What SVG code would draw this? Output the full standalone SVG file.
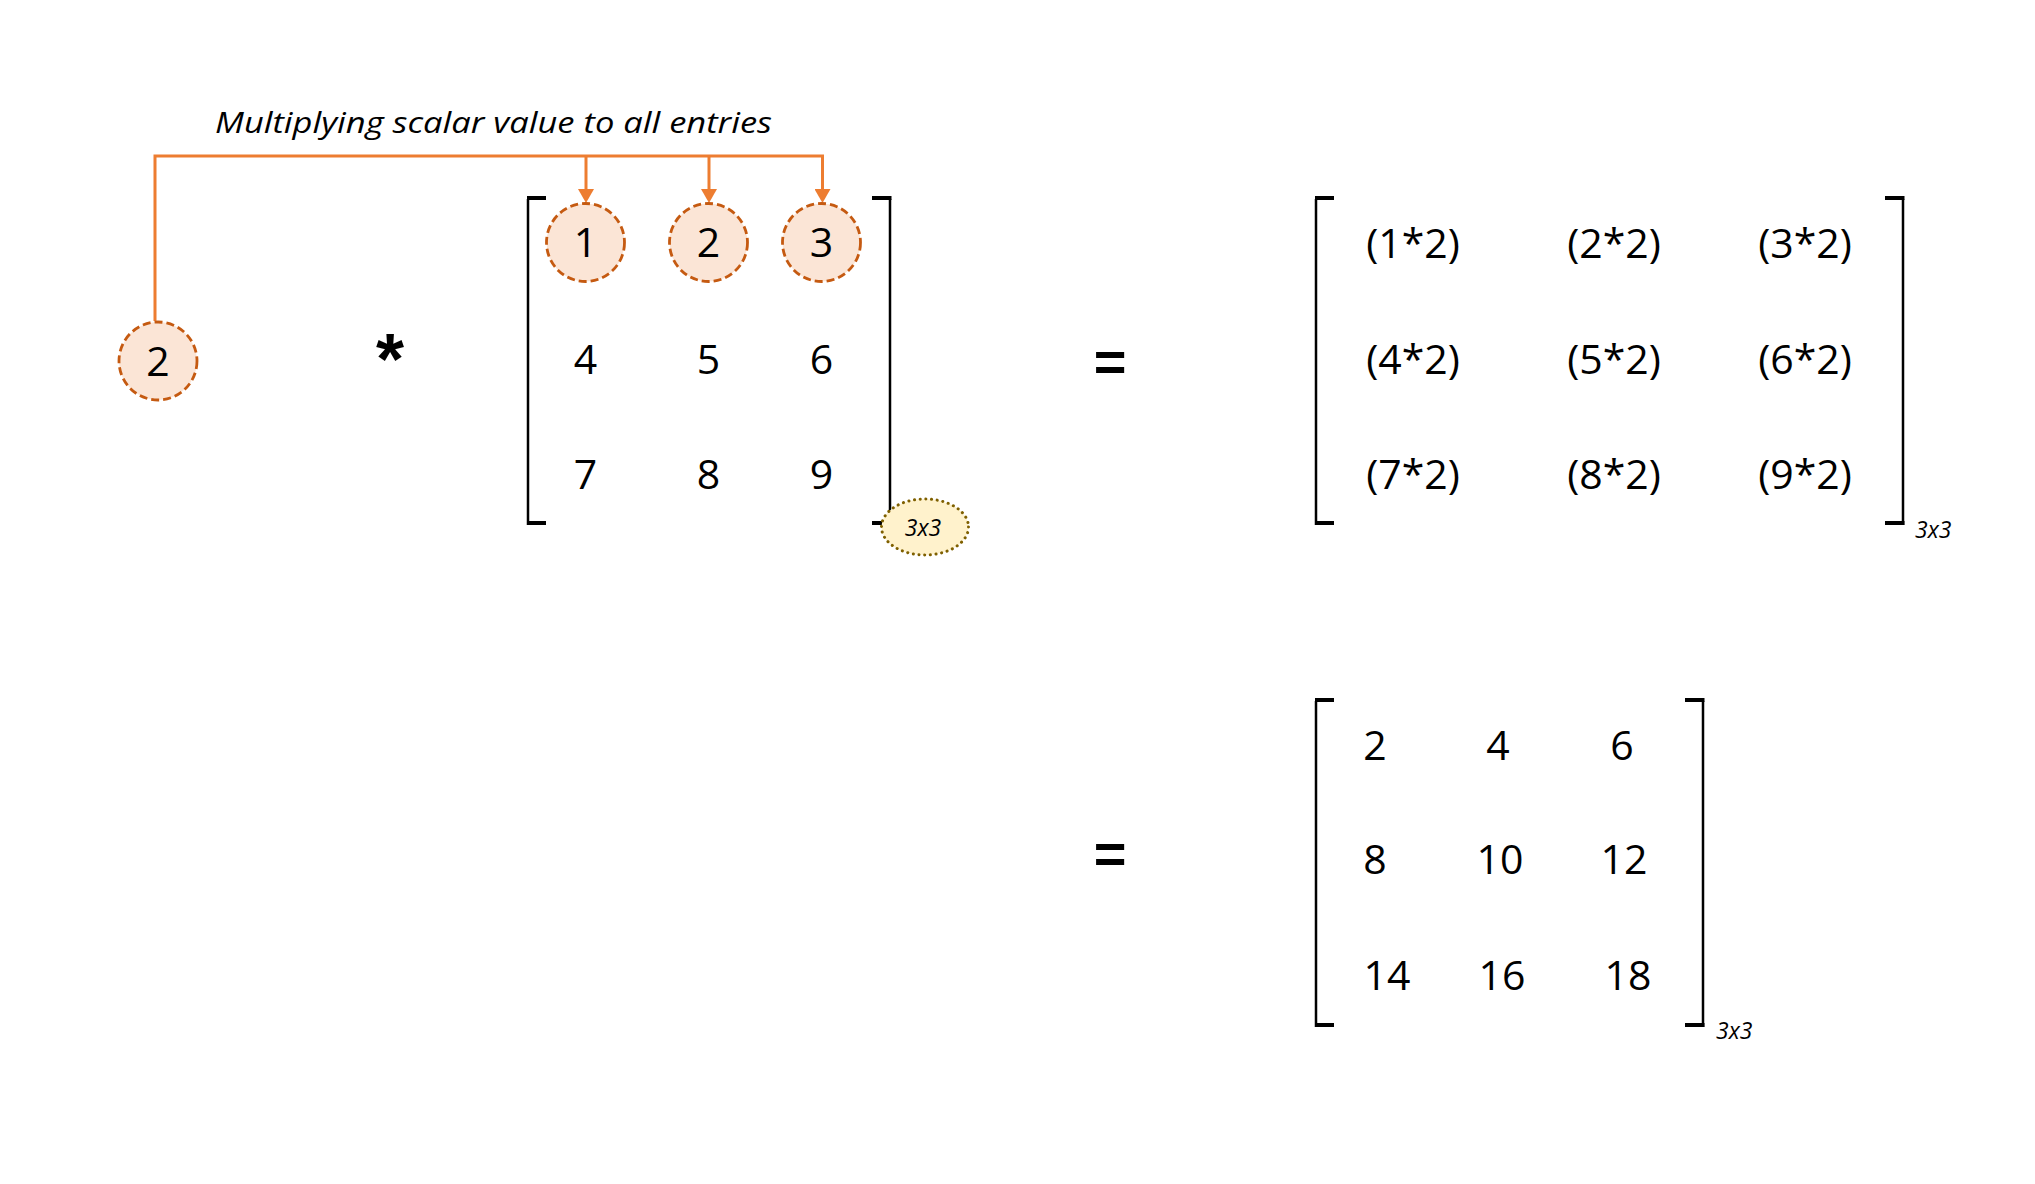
<svg xmlns="http://www.w3.org/2000/svg" width="2035" height="1184" viewBox="0 0 2035 1184">
<style>
.num{font-family:"Open Sans","Liberation Sans",Arial,sans-serif;font-size:41px;fill:#000;text-anchor:middle}
.sub{font-family:"Open Sans","Liberation Sans",Arial,sans-serif;font-size:23px;font-style:italic;fill:#000}
.title{font-family:"Open Sans","Liberation Sans",Arial,sans-serif;font-size:30px;font-style:italic;fill:#000}
.op{font-family:"Liberation Sans",Arial,sans-serif;font-weight:bold;fill:#000;text-anchor:middle}
.hl{fill:#FBE5D6;stroke:#C55A11;stroke-width:2.8;stroke-dasharray:8 4}
.dim{fill:#FFF2CC;stroke:#7F6000;stroke-width:3;stroke-dasharray:0.1 5.6;stroke-linecap:round}
.bv{stroke:#000;stroke-width:2.5;fill:none}
.bs{fill:#000}
.conn{stroke:#ED7D31;stroke-width:3;fill:none}
</style>
<defs>
<marker id="arr" viewBox="0 0 14 16" markerWidth="14" markerHeight="16" refX="1" refY="8" orient="auto" markerUnits="userSpaceOnUse">
<path d="M0,0 L14,8 L0,16 z" fill="#ED7D31"/>
</marker>
</defs>
<rect width="2035" height="1184" fill="#fff"/>

<text id="title" class="title" x="215" y="133" textLength="557" lengthAdjust="spacingAndGlyphs">Multiplying scalar value to all entries</text>

<g id="connectors">
<path class="conn" d="M155,321 V156 H822.5 V190" marker-end="url(#arr)"/>
<path class="conn" d="M586,156 V190" marker-end="url(#arr)"/>
<path class="conn" d="M709,156 V190" marker-end="url(#arr)"/>
</g>

<g id="scalar">
<circle class="hl" cx="158" cy="361" r="39"/>
<text class="num" x="158" y="375.5">2</text>
</g>

<g id="times"><text class="op" x="390" y="384" font-size="72">*</text></g>

<g id="matrixA">
<path class="bv" d="M528,199 V525"/>
<rect class="bs" x="527" y="196" width="19" height="4"/>
<rect class="bs" x="527" y="521" width="19" height="4"/>
<path class="bv" d="M890,199 V525"/>
<rect class="bs" x="872" y="196" width="19.5" height="4"/>
<rect class="bs" x="872" y="521" width="19.5" height="4"/>
<circle class="hl" cx="585.5" cy="242.5" r="39"/>
<circle class="hl" cx="708.5" cy="242.5" r="39"/>
<circle class="hl" cx="821.5" cy="242.5" r="39"/>
<text class="num" x="585.5" y="257">1</text>
<text class="num" x="708.5" y="257">2</text>
<text class="num" x="821.5" y="257">3</text>
<text class="num" x="585.5" y="374">4</text>
<text class="num" x="708.5" y="374">5</text>
<text class="num" x="821.5" y="374">6</text>
<text class="num" x="585.5" y="488.5">7</text>
<text class="num" x="708.5" y="488.5">8</text>
<text class="num" x="821.5" y="488.5">9</text>
<ellipse class="dim" cx="925" cy="527" rx="43.5" ry="28"/>
<text class="sub" x="923" y="536" text-anchor="middle">3x3</text>
</g>

<g id="eq1"><text class="op" x="1110" y="380.5" font-size="56">=</text></g>

<g id="matrixB">
<path class="bv" d="M1316,199 V525"/>
<rect class="bs" x="1315" y="196" width="19" height="4"/>
<rect class="bs" x="1315" y="521" width="19" height="4"/>
<path class="bv" d="M1903,199 V525"/>
<rect class="bs" x="1885" y="196" width="19.5" height="4"/>
<rect class="bs" x="1885" y="521" width="19.5" height="4"/>
<text class="num" x="1413" y="258">(1*2)</text>
<text class="num" x="1614" y="258">(2*2)</text>
<text class="num" x="1805" y="258">(3*2)</text>
<text class="num" x="1413" y="374">(4*2)</text>
<text class="num" x="1614" y="374">(5*2)</text>
<text class="num" x="1805" y="374">(6*2)</text>
<text class="num" x="1413" y="489">(7*2)</text>
<text class="num" x="1614" y="489">(8*2)</text>
<text class="num" x="1805" y="489">(9*2)</text>
<text class="sub" x="1915" y="538">3x3</text>
</g>

<g id="eq2"><text class="op" x="1110" y="872.5" font-size="56">=</text></g>

<g id="matrixC">
<path class="bv" d="M1316,701 V1027"/>
<rect class="bs" x="1315" y="698" width="19" height="4"/>
<rect class="bs" x="1315" y="1023" width="19" height="4"/>
<path class="bv" d="M1703,701 V1027"/>
<rect class="bs" x="1685" y="698" width="19.5" height="4"/>
<rect class="bs" x="1685" y="1023" width="19.5" height="4"/>
<text class="num" x="1375" y="759.5">2</text>
<text class="num" x="1498" y="759.5">4</text>
<text class="num" x="1622" y="759.5">6</text>
<text class="num" x="1375" y="874">8</text>
<text class="num" x="1500" y="874">10</text>
<text class="num" x="1624" y="874">12</text>
<text class="num" x="1387" y="989.5">14</text>
<text class="num" x="1502" y="989.5">16</text>
<text class="num" x="1628" y="989.5">18</text>
<text class="sub" x="1716" y="1039">3x3</text>
</g>
</svg>
